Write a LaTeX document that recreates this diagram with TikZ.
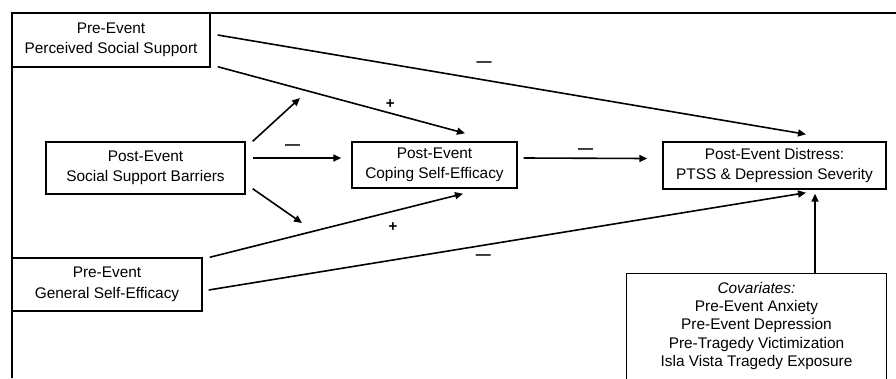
\documentclass[tikz,border=0pt]{standalone}
\usepackage{fontspec}
\setmainfont{Liberation Sans}
\usetikzlibrary{arrows.meta}
\tikzstyle{var} = [draw, line width=1.4pt, align=center, inner sep=0pt, font=\fontsize{15.4}{20.5}\selectfont]
\tikzstyle{link} = [line width=1.6pt, -{Triangle[length=8pt,width=7pt]}]
\tikzstyle{sign} = [inner sep=0pt, font=\fontsize{15}{15}\selectfont\bfseries]

\begin{document}
\begin{tikzpicture}[x=1pt, y=-1pt]
	\useasboundingbox (0,0) rectangle (896,378);
	\draw[line width=2.6pt] (12,378) |- (896,13);

	\node[var, minimum width=198pt, minimum height=54pt] (pss) at (111,40) {Pre-Event\\Perceived Social Support};
	\node[var, minimum width=199pt, minimum height=52pt] (ssb) at (145.5,168) {Post-Event\\Social Support Barriers};
	\node[var, minimum width=165pt, minimum height=46pt] (cse) at (434.5,165) {Post-Event\\Coping Self-Efficacy};
	\node[var, minimum width=223pt, minimum height=47pt] (dist) at (774.5,165.5) {Post-Event Distress:\\PTSS \& Depression Severity};
	\node[var, minimum width=190pt, minimum height=53pt] (gse) at (107,284.5) {Pre-Event\\General Self-Efficacy};
	\node[var, draw=none, minimum width=259pt, minimum height=104pt, font=\fontsize{15.4}{18.3}\selectfont] (cov) at (756.5,326)
		{\textit{Covariates:}\\Pre-Event Anxiety\\Pre-Event Depression\\Pre-Tragedy Victimization\\Isla Vista Tragedy Exposure};
	\draw[line width=1.4pt] (cov.south west) |- (cov.north east) -- (cov.south east);

	\coordinate (modup) at (300,98);
	\coordinate (moddown) at (302,223);

	\draw[link] ([shift={(7pt,5pt)}]pss.east) -- ([shift={(31.5pt,7pt)}]dist.north)
		node[sign, pos=.453, yshift=16pt] {\textemdash};
	\draw[link] ([shift={(7pt,1pt)}]pss.south east) -- ([shift={(30.5pt,8pt)}]cse.north)
		node[sign, pos=.698, yshift=9pt] {+};
	\draw[link] ([xshift=7pt]ssb.north east) -- (modup);
	\draw[link] ([shift={(7pt,10pt)}]ssb.east) -- ([shift={(-10pt,7pt)}]cse.west)
		node[sign, pos=.45, yshift=10.5pt] {\textemdash};
	\draw[link] ([shift={(7pt,6pt)}]ssb.south east) -- (moddown);
	\draw[link] ([shift={(6pt,7pt)}]cse.east) -- ([shift={(-15pt,7pt)}]dist.west)
		node[sign, pos=.5, yshift=7.5pt] {\textemdash};
	\draw[link] ([xshift=7pt]gse.north east) -- ([shift={(28.5pt,-5pt)}]cse.south)
		node[sign, pos=.724, yshift=-16pt] {+};
	\draw[link] ([shift={(6pt,-5.5pt)}]gse.east) -- ([shift={(31.5pt,-3pt)}]dist.south)
		node[sign, pos=.46, yshift=-12pt] {\textemdash};
	\draw[link] ([xshift=58.5pt]cov.north) -- ([shift={(40.5pt,-4pt)}]dist.south);
\end{tikzpicture}
\end{document}
